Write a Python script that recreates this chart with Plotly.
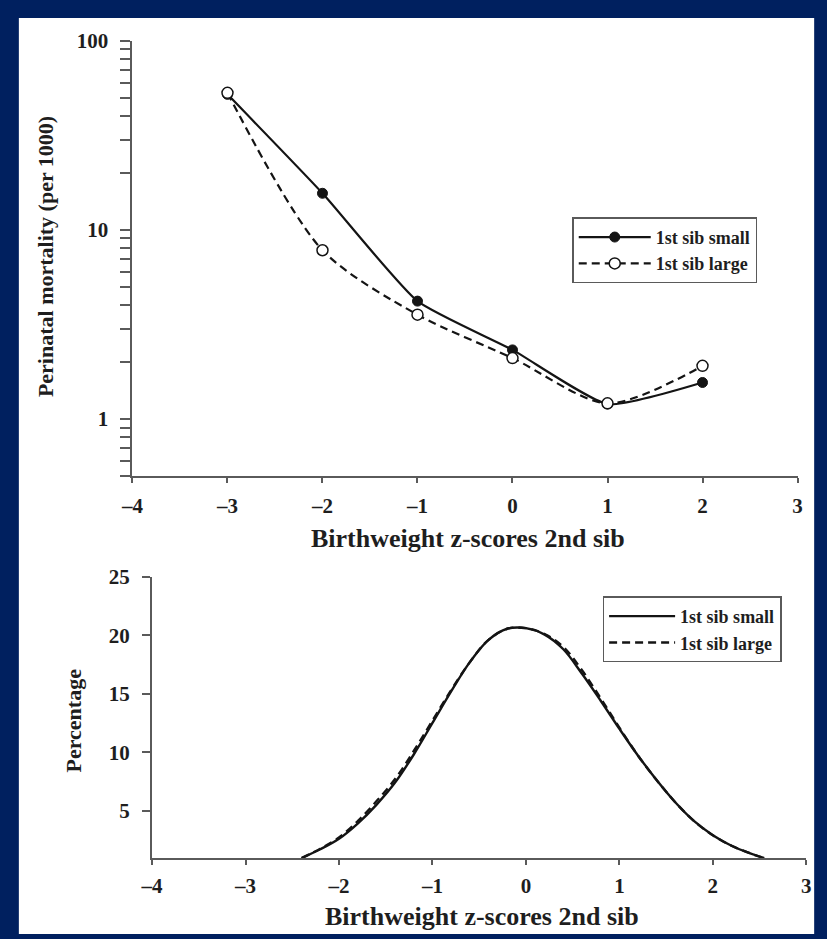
import plotly.graph_objects as go

# ---- data ----
z_top = [-3, -2, -1, 0, 1, 2]
mort_small = [52, 15.6, 4.2, 2.32, 1.2, 1.56]
mort_large = [53, 7.8, 3.56, 2.10, 1.21, 1.91]

z_bot = [-2.4, -2.2, -2.0, -1.8, -1.6, -1.4, -1.2, -1.0, -0.8, -0.6, -0.4, -0.2,
         0.0, 0.2, 0.4, 0.6, 0.8, 1.0, 1.2, 1.4, 1.6, 1.8, 2.0, 2.2, 2.4, 2.55]
pct_small = [0.95, 1.7, 2.6, 3.9, 5.5, 7.4, 9.8, 12.5, 15.2, 17.7, 19.6, 20.55,
             20.6, 20.05, 18.8, 16.7, 14.4, 12.0, 9.7, 7.6, 5.7, 4.1, 2.9, 2.0, 1.35, 0.95]
pct_large = [0.95, 1.75, 2.7, 4.1, 5.8, 7.7, 10.1, 12.7, 15.3, 17.7, 19.6, 20.55,
             20.6, 20.1, 19.0, 17.0, 14.6, 12.1, 9.7, 7.6, 5.7, 4.1, 2.9, 2.0, 1.35, 0.95]

x_tickvals = [-4, -3, -2, -1, 0, 1, 2, 3]
x_ticktext = ["\u20134", "\u20133", "\u20132", "\u20131", "0", "1", "2", "3"]
y_log_major = [1, 10, 100]
y_log_minor = [0.5, 0.6, 0.7, 0.8, 0.9, 2, 3, 4, 5, 6, 7, 8, 9, 20, 30, 40, 50, 60, 70, 80, 90]
y_pct_ticks = [5, 10, 15, 20, 25]

legend_names = ["1st sib small", "1st sib large"]

W, H = 827, 939
NAVY = "#00205f"
INK = "#141414"
AXC = "#5a5a5a"
FONT = "Liberation Serif"
TXT = "#1e1e1e"


def px(x):
    return x / W


def py(y):
    return 1 - y / H


fig = go.Figure()

# ---- top panel ----
fig.add_trace(go.Scatter(
    x=z_top, y=mort_small, name=legend_names[0], mode="lines+markers",
    line=dict(color=INK, width=2.2, shape="spline", smoothing=0.5),
    marker=dict(size=10, color=INK, line=dict(color=INK, width=1)),
    xaxis="x", yaxis="y", legend="legend"))
fig.add_trace(go.Scatter(
    x=z_top, y=mort_large, name=legend_names[1], mode="lines+markers",
    line=dict(color=INK, width=2.2, dash="8px,5px", shape="spline", smoothing=0.8),
    marker=dict(size=11, color="white", line=dict(color=INK, width=1.5)),
    xaxis="x", yaxis="y", legend="legend"))

# ---- bottom panel ----
fig.add_trace(go.Scatter(
    x=z_bot, y=pct_large, name=legend_names[1], mode="lines",
    line=dict(color=INK, width=2.4, dash="8px,5px", shape="spline"),
    xaxis="x2", yaxis="y2", legend="legend2", legendrank=2))
fig.add_trace(go.Scatter(
    x=z_bot, y=pct_small, name=legend_names[0], mode="lines",
    line=dict(color=INK, width=2.4, shape="spline"),
    xaxis="x2", yaxis="y2", legend="legend2", legendrank=1))

tickfont = dict(family=FONT, size=21, color=TXT, weight="bold")

y_log_vals = y_log_minor + y_log_major
y_log_text = [""] * len(y_log_minor) + [str(v) for v in y_log_major]

axis_common = dict(showline=True, linecolor=AXC, linewidth=2, ticks="outside",
                   tickcolor=AXC, tickwidth=2, showgrid=False, zeroline=False,
                   tickfont=tickfont, fixedrange=True)

legend_font = dict(family=FONT, size=18, color=TXT, weight="bold")
title_font = dict(family=FONT, size=26, color=TXT, weight="bold")
ytitle_font = dict(family=FONT, size=22, color=TXT, weight="bold")

fig.update_layout(
    width=W, height=H,
    margin=dict(l=0, r=0, t=0, b=0),
    paper_bgcolor=NAVY, plot_bgcolor="white",
    showlegend=True,
    xaxis=dict(domain=[px(123), px(802)], range=[-4, 3], anchor="y",
               tickvals=x_tickvals, ticktext=x_ticktext, ticklen=5,
               ticklabelstandoff=5, **axis_common),
    yaxis=dict(domain=[py(470), py(29)], type="log", range=[-0.30103, 2], anchor="x",
               tickvals=y_log_vals, ticktext=y_log_text, ticklen=10,
               ticklabelstandoff=8, **axis_common),
    xaxis2=dict(domain=[px(143), px(811)], range=[-4, 3], anchor="y2",
                tickvals=x_tickvals, ticktext=x_ticktext, ticklen=5,
                ticklabelstandoff=3, **axis_common),
    yaxis2=dict(domain=[py(857), py(572)], range=[0.95, 25], anchor="x2",
                tickvals=y_pct_ticks, ticklen=8, ticklabelstandoff=8, **axis_common),
    legend=dict(x=px(572), y=py(208), xanchor="left", yanchor="top",
                bgcolor="white", bordercolor=AXC, borderwidth=1.5,
                font=legend_font, itemwidth=72, tracegroupgap=0),
    legend2=dict(x=px(603), y=py(592), xanchor="left", yanchor="top",
                 bgcolor="white", bordercolor=AXC, borderwidth=1.5,
                 font=legend_font, itemwidth=66, tracegroupgap=0),
    shapes=[dict(type="rect", xref="paper", yref="paper",
                 x0=px(7), x1=px(819), y0=py(934), y1=py(6),
                 fillcolor="white", line=dict(width=0), layer="below")],
    annotations=[
        dict(text="Birthweight z-scores 2nd sib", x=px(466), y=py(533), xref="paper", yref="paper",
             showarrow=False, xanchor="center", yanchor="middle", font=title_font),
        dict(text="Birthweight z-scores 2nd sib", x=px(480), y=py(916), xref="paper", yref="paper",
             showarrow=False, xanchor="center", yanchor="middle", font=title_font),
        dict(text="Perinatal mortality (per 1000)", x=px(35), y=py(248), xref="paper", yref="paper",
             showarrow=False, xanchor="center", yanchor="middle", textangle=-90, font=ytitle_font),
        dict(text="Percentage", x=px(63), y=py(718), xref="paper", yref="paper",
             showarrow=False, xanchor="center", yanchor="middle", textangle=-90, font=ytitle_font),
    ],
)

fig.write_html("out.html")
